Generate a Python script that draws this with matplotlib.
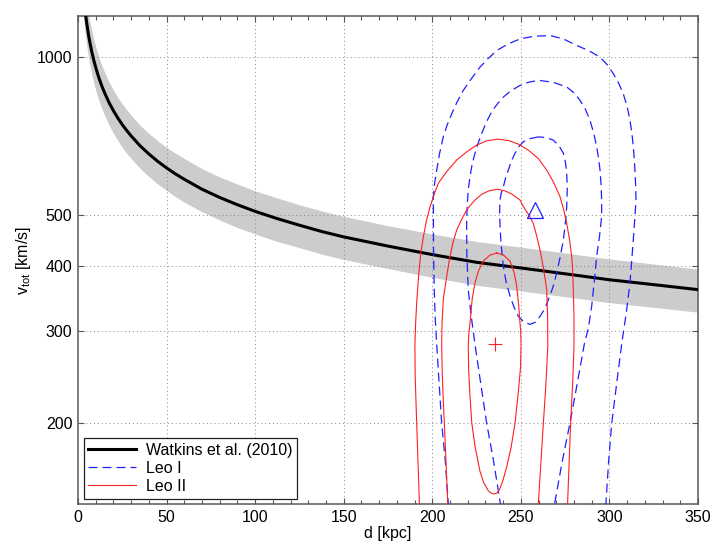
import matplotlib
matplotlib.use("Agg")
import matplotlib.pyplot as plt
from matplotlib.ticker import FixedLocator, FixedFormatter, MultipleLocator, NullLocator

plt.rcParams['font.family'] = ['Liberation Sans', 'DejaVu Sans']
plt.rcParams['font.size'] = 11.5

# Watkins et al. (2010) curve with its uncertainty band
d_kpc = [3, 3.5, 4, 4.5, 5, 5.5, 6, 6.5, 7, 8, 9, 10, 11, 12, 13.5, 15, 17.5,
         20, 22.5, 25, 27.5, 30, 35, 40, 45, 50, 55, 60, 70, 80, 90, 100,
         112.5, 125, 137.5, 150, 175, 200, 225, 250, 275, 300, 325, 350]
v_watkins = [1333, 1278, 1230, 1192, 1158, 1129, 1101, 1077, 1056, 1017, 985,
             957, 932, 910, 881, 856, 820, 791, 766, 744, 725, 708, 678, 654,
             633, 615, 599, 585, 560, 540, 523, 508, 492, 478, 465, 454, 436,
             420, 406, 396, 386, 376, 368, 360]
v_watkins_hi = [1460, 1398, 1347, 1305, 1268, 1236, 1206, 1179, 1156, 1114,
                1078, 1048, 1021, 996, 965, 937, 898, 866, 838, 815, 794, 775,
                742, 716, 693, 673, 656, 641, 613, 591, 573, 556, 539, 523, 509,
                497, 477, 460, 445, 434, 423, 412, 403, 394]
v_watkins_lo = [1206, 1156, 1113, 1078, 1048, 1022, 996, 975, 956, 920, 891,
                866, 843, 824, 798, 775, 743, 716, 693, 673, 656, 641, 614, 592,
                573, 557, 542, 529, 507, 489, 473, 460, 445, 433, 421, 411, 395,
                380, 367, 358, 349, 340, 333, 326]

# Leo I contours (blue, dashed), outer to inner
leo1_outer_d = [209.9, 209.0, 207.3, 205.3, 203.8, 202.5, 201.6, 201.1, 200.7,
                200.6, 200.6, 201.3, 202.5, 204.1, 206.2, 208.4, 211.0, 214.0,
                217.5, 222.0, 226.9, 231.5, 236.4, 242.5, 249.5, 257.5, 266.5,
                274.0, 281.5, 288.5, 294.7, 298.8, 302.2, 305.2, 307.8, 310.0,
                311.6, 312.7, 313.5, 314.0, 314.4, 314.8, 315.0, 314.4, 313.3,
                311.6, 309.5, 306.9, 304.2, 301.3, 299.6, 298.1, 297.3]
leo1_outer_v = [130, 141, 170, 200, 240, 283, 320, 360, 430, 519, 542, 575, 609,
                655, 705, 743, 781, 822, 865, 910, 958, 995, 1031, 1060, 1085,
                1098, 1101, 1085, 1054, 1030, 1001, 968, 931, 893, 853, 805,
                759, 715, 675, 640, 609, 570, 534, 496, 440, 371, 325, 283, 240,
                200, 170, 142, 130]
leo1_mid_d = [240.1, 238.2, 234.5, 230.7, 227.2, 224.1, 222.0, 220.3, 219.5,
              219.4, 219.7, 220.3, 221.3, 222.5, 224.1, 225.9, 227.9, 230.5,
              233.5, 236.7, 240.1, 244.5, 249.5, 254.5, 259.9, 268.0, 275.9,
              280.0, 283.4, 286.5, 289.0, 291.1, 292.8, 293.9, 294.7, 295.3,
              295.6, 295.6, 294.4, 292.8, 291.5, 290.0, 288.2, 285.8, 282.0,
              277.7, 273.5, 269.3, 267.2]
leo1_mid_v = [130, 142, 170, 200, 240, 283, 320, 360, 420, 482, 520, 558, 592,
              625, 656, 686, 716, 752, 787, 815, 840, 864, 884, 897, 904, 897,
              878, 856, 828, 795, 759, 717, 675, 640, 609, 570, 534, 496, 455,
              417, 375, 335, 305, 283, 240, 200, 170, 142, 130]
leo1_inner_d = [259.9, 255.5, 251.4, 248.8, 246.7, 244.6, 242.9, 241.3, 240.1,
                238.9, 238.2, 238.0, 238.2, 238.8, 240.1, 241.7, 243.9, 246.2,
                248.6, 251.8, 255.2, 258.2, 260.8, 263.3, 265.5, 268.0, 270.2,
                272.3, 274.0, 275.2, 275.9, 276.2, 275.9, 275.2, 274.0, 271.5,
                268.3, 264.3, 259.9]
leo1_inner_v = [705, 700, 690, 675, 656, 633, 609, 587, 566, 550, 534, 505, 482,
                440, 399, 372, 350, 333, 320, 312, 309, 312, 320, 330, 344, 363,
                387, 417, 448, 485, 519, 560, 600, 630, 656, 678, 695, 703, 705]
leo1_best_d = [258.0]
leo1_best_v = [512.0]

# Leo II contours (red, solid), outer to inner
leo2_outer_d = [193.1, 192.7, 191.9, 191.2, 190.7, 190.3, 190.2, 190.6, 191.2,
                192.2, 193.5, 195.0, 196.8, 198.5, 200.6, 203.4, 208.1, 213.8,
                219.4, 225.1, 230.7, 236.9, 242.9, 248.6, 254.2, 259.9, 264.6,
                268.3, 272.1, 274.3, 275.9, 277.5, 278.7, 279.3, 279.6, 280.0,
                280.0, 279.3, 278.1, 277.3, 276.4, 276.0]
leo2_outer_v = [130, 141, 170, 200, 225, 250, 283, 311, 340, 380, 423, 455, 489,
                515, 542, 575, 605, 637, 660, 680, 693, 698, 694, 683, 665, 641,
                609, 579, 542, 510, 482, 448, 417, 388, 360, 320, 281, 240, 200,
                170, 141, 130]
leo2_mid_d = [209.2, 208.7, 207.7, 206.8, 206.1, 205.6, 205.3, 205.5, 206.2,
              207.0, 208.3, 210.0, 211.7, 213.8, 216.5, 219.4, 221.5, 224.1,
              228.0, 232.0, 236.7, 241.0, 245.0, 249.5, 251.4, 254.5, 257.0,
              259.0, 260.8, 262.8, 264.6, 265.1, 265.2, 264.5, 263.7, 262.7,
              261.4, 259.9, 259.2]
leo2_mid_v = [130, 141, 170, 200, 225, 250, 283, 310, 344, 360, 385, 417, 443,
              468, 490, 511, 522, 534, 548, 556, 560, 556, 548, 534, 519, 500,
              482, 455, 429, 395, 360, 320, 281, 250, 225, 200, 170, 141, 130]
leo2_inner_d = [236.4, 232.5, 228.8, 226.2, 224.1, 222.5, 221.3, 220.6, 220.3,
                220.5, 221.2, 222.3, 224.2, 226.9, 229.0, 231.6, 233.3, 235.0,
                236.7, 238.2, 240.0, 242.0, 244.5, 246.7, 248.6, 249.8, 250.1,
                249.9, 249.5, 248.8, 247.7, 246.2, 243.9, 240.3, 236.4]
leo2_inner_v = [423, 419, 408, 392, 371, 345, 311, 295, 283, 255, 228, 200, 180,
                162, 154, 148.6, 147, 146.5, 147.2, 150, 156, 165, 180, 200, 230,
                255, 283, 300, 311, 335, 365, 388, 408, 419, 423]
leo2_best_d = [235.5]
leo2_best_v = [284.0]

y_ticks = [200, 300, 400, 500, 1000]

blue = '#1f1fff'
red = '#ff2020'
dash = (0, (7.2, 4.0))

fig = plt.figure(figsize=(7.17, 5.5), dpi=100)
ax = fig.add_axes([0.1088, 0.0831, 0.8647, 0.8878])

ax.fill_between(d_kpc, v_watkins_lo, v_watkins_hi, color='#cccccc', lw=0, zorder=1)
ax.plot(d_kpc, v_watkins, color='k', lw=2.2, zorder=3, label='Watkins et al. (2010)')

leo1 = [(leo1_outer_d, leo1_outer_v), (leo1_mid_d, leo1_mid_v), (leo1_inner_d, leo1_inner_v)]
for i, (dd, vv) in enumerate(leo1):
    ax.plot(dd, vv, color=blue, lw=0.9, ls=dash, zorder=4,
            label='Leo I' if i == 0 else '_nolegend_')

leo2 = [(leo2_outer_d, leo2_outer_v), (leo2_mid_d, leo2_mid_v), (leo2_inner_d, leo2_inner_v)]
for i, (dd, vv) in enumerate(leo2):
    ax.plot(dd, vv, color=red, lw=0.8, zorder=4,
            label='Leo II' if i == 0 else '_nolegend_')

ax.plot(leo1_best_d, leo1_best_v, marker='^', ms=11, mfc='none', mec=blue, mew=0.9,
        ls='none', zorder=5)
ax.plot(leo2_best_d, leo2_best_v, marker='+', ms=10, mec=red, mew=0.8,
        ls='none', zorder=5)

ax.set_yscale('log')
ax.set_xlim(0, 350)
ax.set_ylim(140, 1200)
ax.yaxis.set_major_locator(FixedLocator(y_ticks))
ax.yaxis.set_major_formatter(FixedFormatter([str(t) for t in y_ticks]))
ax.yaxis.set_minor_locator(NullLocator())
ax.xaxis.set_major_locator(MultipleLocator(50))
ax.xaxis.set_minor_locator(MultipleLocator(10))

ax.set_axisbelow(False)
ax.grid(True, which='major', ls=(0, (1, 3)), color='#888888', lw=0.7)
ax.tick_params(which='both', direction='in', top=True, right=True, color='#555555')
ax.tick_params(which='major', length=4, width=0.8, pad=4)
ax.tick_params(which='minor', length=3, width=0.8)
for s in ax.spines.values():
    s.set_color('#666666')
    s.set_linewidth(1.2)

ax.set_xlabel('d [kpc]', labelpad=1)
ax.set_ylabel('v$_\\mathregular{tot}$ [km/s]', labelpad=3)

leg = ax.legend(loc='lower left', fancybox=False, framealpha=1, edgecolor='#222222',
                handlelength=3.0, handletextpad=0.6, borderaxespad=0.35,
                borderpad=0.3, labelspacing=0.2)
leg.get_frame().set_linewidth(0.9)

fig.savefig('out.png', dpi=100)
